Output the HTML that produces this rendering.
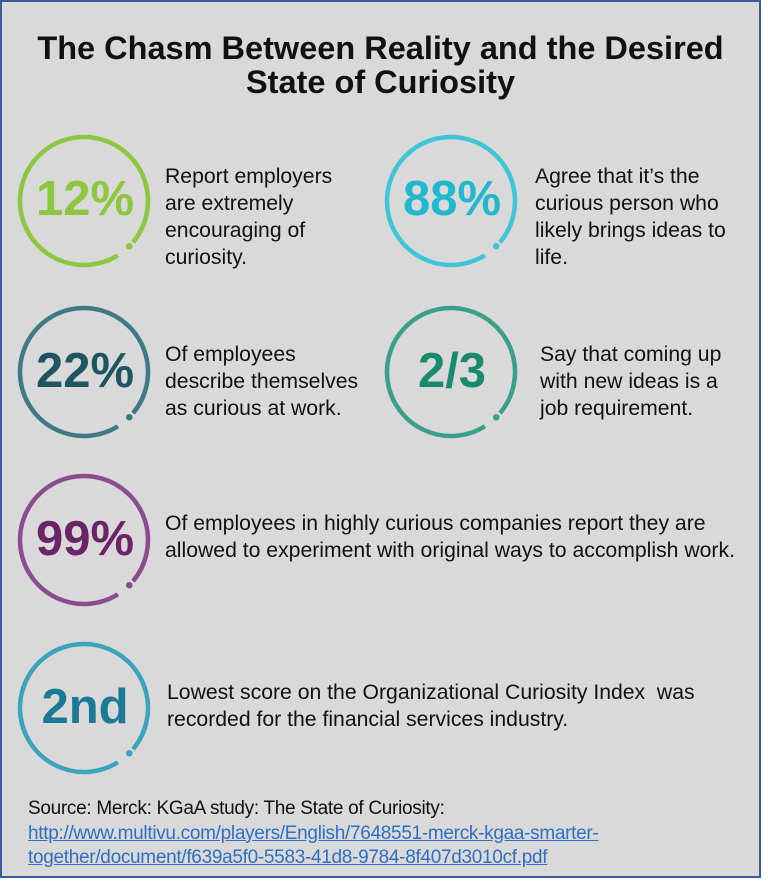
<!DOCTYPE html>
<html><head><meta charset="utf-8"><style>
body{margin:0;width:768px;height:880px;background:#fff;font-family:"Liberation Sans",sans-serif;overflow:hidden}
#card{position:absolute;left:0;top:0;width:757px;height:874px;background:#d9d9d9;border:2px solid #3b5a9a}
h1{position:absolute;left:0;width:757px;top:29px;margin:0;text-align:center;font-size:32.5px;line-height:34px;font-weight:bold;color:#111}
.num{position:absolute;font-weight:bold;font-size:49px;text-align:center;width:160px}
.desc{position:absolute;font-size:21.2px;line-height:27px;color:#111}
.src{position:absolute;left:26px;top:795px;font-size:19px;line-height:24.5px;color:#111;letter-spacing:-0.3px}
.src a{color:#2e6fc4;text-decoration:underline}
svg{position:absolute;left:0;top:0}
</style></head><body>
<div id="card">
<h1>The Chasm Between Reality and the Desired<br>State of Curiosity</h1>
<svg width="760" height="880" id="rings"></svg>
<div class="num" style="left:3px;top:169px;color:#8dc63f">12%</div>
<div class="desc" style="left:163px;top:161px">Report employers<br>are extremely<br>encouraging of<br>curiosity.</div>
<div class="num" style="left:370px;top:169px;color:#1fb8cf">88%</div>
<div class="desc" style="left:533px;top:161px">Agree that it’s the<br>curious person who<br>likely brings ideas to<br>life.</div>
<div class="num" style="left:3px;top:341px;color:#1f5560">22%</div>
<div class="desc" style="left:163px;top:339px">Of employees<br>describe themselves<br>as curious at work.</div>
<div class="num" style="left:370px;top:341px;color:#1a8a6e">2/3</div>
<div class="desc" style="left:538px;top:339px">Say that coming up<br>with new ideas is a<br>job requirement.</div>
<div class="num" style="left:3px;top:509px;color:#6b2467">99%</div>
<div class="desc" style="left:163px;top:508px">Of employees in highly curious companies report they are<br>allowed to experiment with original ways to accomplish work.</div>
<div class="num" style="left:3px;top:677px;color:#1b7a96">2nd</div>
<div class="desc" style="left:165px;top:677px">Lowest score on the Organizational Curiosity Index&nbsp; was<br>recorded for the financial services industry.</div>
<div class="src">Source: Merck: KGaA study: The State of Curiosity:<br><a>http://www.multivu.com/players/English/7648551-merck-kgaa-smarter-<br>together/document/f639a5f0-5583-41d8-9784-8f407d3010cf.pdf</a></div>
</div>
<script>
const cx=[82,449,82,449,82,82];
const cy=[199,199,370,370,538,706];
const cols=['#8dc63f','#3ec5d8','#3e7a84','#3aa08a','#8a4c8f','#3ba3bd'];
const names=['ring-12','ring-88','ring-22','ring-two-thirds','ring-99','ring-2nd'];
const svg=document.getElementById('rings');
const NS='http://www.w3.org/2000/svg';
const r=64,a0=58*Math.PI/180,a1=(360+40)*Math.PI/180,ad=45*Math.PI/180;
for(let i=0;i<cx.length;i++){
 const x0=cx[i]+r*Math.cos(a0),y0=cy[i]+r*Math.sin(a0);
 const x1=cx[i]+r*Math.cos(a1),y1=cy[i]+r*Math.sin(a1);
 const p=document.createElementNS(NS,'path');
 p.setAttribute('d',`M${x0},${y0} A${r},${r} 0 1 1 ${x1},${y1}`);
 p.setAttribute('fill','none');p.setAttribute('stroke',cols[i]);p.setAttribute('stroke-width','4.5');
 
 
 svg.appendChild(p);
 const c=document.createElementNS(NS,'circle');
 c.setAttribute('cx',cx[i]+r*Math.cos(ad));c.setAttribute('cy',cy[i]+r*Math.sin(ad));c.setAttribute('r','3.3');c.setAttribute('fill',cols[i]);
 
 
 svg.appendChild(c);
}
</script>
</body></html>
